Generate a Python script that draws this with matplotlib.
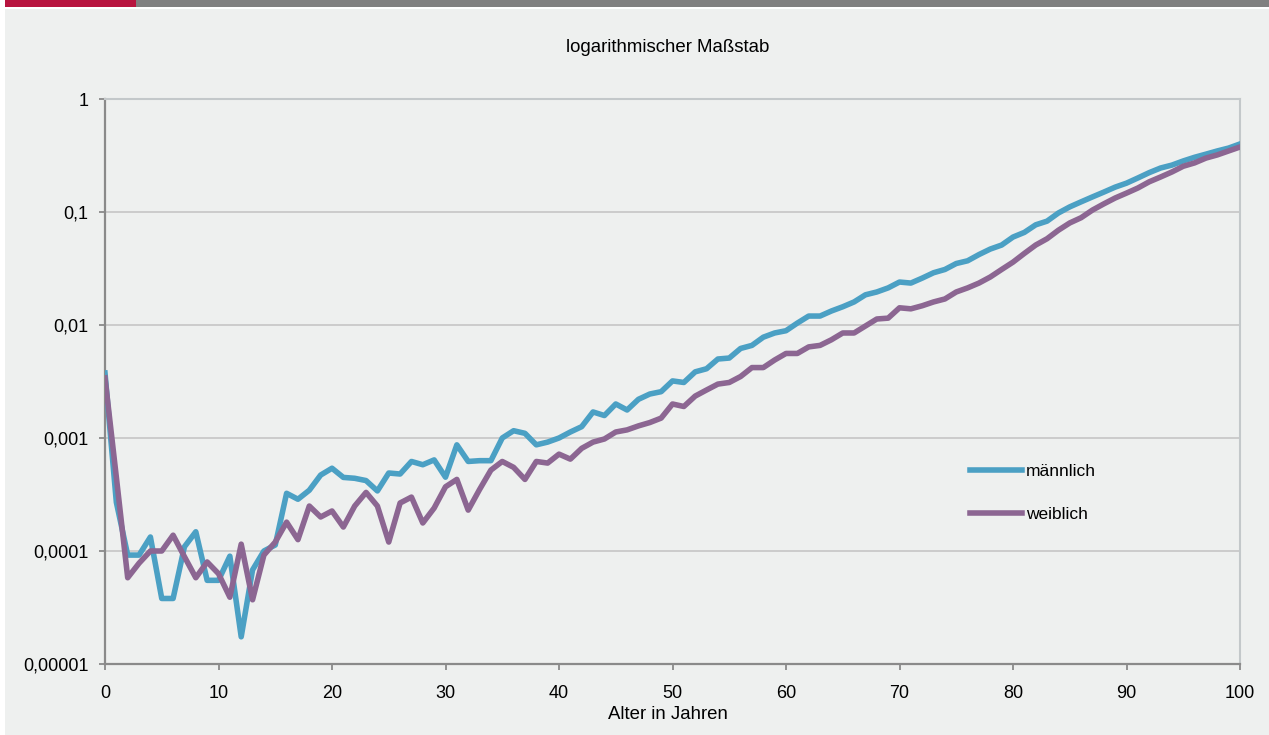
import matplotlib
matplotlib.use("Agg")
import matplotlib.pyplot as plt
from matplotlib.patches import Rectangle
from matplotlib.ticker import FixedLocator, NullLocator

# ========= CONFIG
plt.rcParams.update({
    "font.family": ["Liberation Sans", "DejaVu Sans"],
    "font.size": 13,
})

# ========= DATA (Sterbewahrscheinlichkeit nach Alter)
ages = list(range(0, 101))

maennlich = [
    0.00376, 0.00027, 0.000092, 0.000092, 0.000133, 0.000038, 0.000038, 0.000109, 0.000148, 0.000055,
    0.000055, 0.00009, 0.0000174, 0.000068, 0.0001, 0.000113, 0.000324, 0.000287, 0.000345, 0.00047,
    0.00054, 0.000448, 0.00044, 0.00042, 0.00034, 0.00049, 0.00048, 0.00062, 0.00058, 0.00064,
    0.00045, 0.00087, 0.00062, 0.00063, 0.00063, 0.001, 0.00116, 0.0011, 0.00087, 0.00092,
    0.001, 0.00113, 0.00126, 0.0017, 0.00158, 0.002, 0.00177, 0.0022, 0.00245, 0.00257,
    0.0032, 0.0031, 0.00385, 0.0041, 0.005, 0.0051, 0.0062, 0.0066, 0.0078, 0.0085,
    0.0089, 0.0104, 0.012, 0.012, 0.0133, 0.0145, 0.016, 0.0185, 0.0196, 0.0213,
    0.024, 0.0235, 0.026, 0.029, 0.031, 0.035, 0.037, 0.042, 0.047, 0.051,
    0.06, 0.066, 0.077, 0.083, 0.098, 0.111, 0.123, 0.136, 0.15, 0.166,
    0.18, 0.2, 0.223, 0.245, 0.26, 0.283, 0.305, 0.325, 0.347, 0.368,
    0.4,
]

weiblich = [
    0.0034, 0.00045, 0.000058, 0.000078, 0.0001, 0.0001, 0.000138, 0.000089, 0.000058, 0.00008,
    0.000063, 0.000039, 0.000115, 0.000037, 0.000092, 0.00012, 0.00018, 0.000126, 0.00025, 0.0002,
    0.000226, 0.000163, 0.00025, 0.00033, 0.00025, 0.00012, 0.000266, 0.0003, 0.000177, 0.00024,
    0.00037, 0.00043, 0.00023, 0.00035, 0.00052, 0.00062, 0.00055, 0.00043, 0.00062, 0.0006,
    0.00072, 0.00065, 0.00081, 0.00092, 0.00098, 0.00113, 0.00118, 0.00128, 0.00137, 0.0015,
    0.002, 0.0019, 0.00235, 0.00266, 0.003, 0.0031, 0.0035, 0.0042, 0.0042, 0.0049,
    0.0056, 0.0056, 0.0064, 0.0066, 0.0074, 0.0085, 0.0085, 0.0098, 0.0113, 0.0115,
    0.0142, 0.0139, 0.0148, 0.016, 0.017, 0.0196, 0.0213, 0.0235, 0.0266, 0.031,
    0.036, 0.043, 0.051, 0.058, 0.069, 0.08, 0.089, 0.104, 0.118, 0.133,
    0.147, 0.163, 0.185, 0.204, 0.226, 0.254, 0.272, 0.3, 0.32, 0.347,
    0.376,
]

y_ticks = [0.00001, 0.0001, 0.001, 0.01, 0.1, 1]
y_labels = ["0,00001", "0,0001", "0,001", "0,01", "0,1", "1"]
x_ticks = list(range(0, 101, 10))

BLUE = "#4ba0c4"
PURPLE = "#8c6692"
BG = "#eef0ef"

# ========= FIGURE
W, H = 1269, 735
fig = plt.figure(figsize=(W / 100, H / 100), dpi=100, facecolor="white")

# Hintergrund + Kopfbalken (hinter den Achsen)
fig.patches.append(Rectangle((5 / W, 0), 1 - 5 / W, 1 - 9 / H,
                             transform=fig.transFigure, facecolor=BG, edgecolor="none", zorder=-2))
fig.patches.append(Rectangle((5 / W, 1 - 7 / H), 131 / W, 7 / H,
                             transform=fig.transFigure, facecolor="#b8143f", edgecolor="none", zorder=-2))
fig.patches.append(Rectangle((136 / W, 1 - 7 / H), 1 - 136 / W, 7 / H,
                             transform=fig.transFigure, facecolor="#808080", edgecolor="none", zorder=-2))

ax = fig.add_axes([105 / W, 1 - 664 / H, (1240 - 105) / W, (664 - 99) / H])
ax.set_facecolor(BG)

ax.plot(ages, maennlich, color=BLUE, lw=4, solid_joinstyle="round", label="männlich", zorder=3)
ax.plot(ages, weiblich, color=PURPLE, lw=4, solid_joinstyle="round", label="weiblich", zorder=4)

ax.set_yscale("log")
ax.set_ylim(0.00001, 1)
ax.set_xlim(0, 100)
ax.yaxis.set_major_locator(FixedLocator(y_ticks))
ax.yaxis.set_minor_locator(NullLocator())
ax.set_yticks(y_ticks)
ax.set_yticklabels(y_labels)
ax.set_xticks(x_ticks)

ax.grid(axis="y", color="#c9c9c9", lw=1.3, zorder=1)
for side in ["top", "right"]:
    ax.spines[side].set_color("#c3c8ca")
    ax.spines[side].set_linewidth(1.5)
for side in ["left", "bottom"]:
    ax.spines[side].set_color("#8a8a8a")
    ax.spines[side].set_linewidth(1.6)

ax.tick_params(axis="y", length=4, width=1.3, color="#8a8a8a", pad=8)
ax.tick_params(axis="x", length=4, width=1.3, color="#8a8a8a", pad=11)

ax.set_xlabel("Alter in Jahren", fontsize=13.4)
ax.xaxis.set_label_coords(0.496, -0.074)
fig.text(668 / W, 1 - 48 / H, "logarithmischer Maßstab", ha="center", va="center", fontsize=13.4)

ax.legend(
    loc="upper left",
    bbox_to_anchor=(0.748, 0.382),
    frameon=False,
    handlelength=3.0,
    handletextpad=0.25,
    labelspacing=1.6,
    fontsize=12.5,
)

plt.savefig("out.png", dpi=100, facecolor=fig.get_facecolor())
plt.close()
